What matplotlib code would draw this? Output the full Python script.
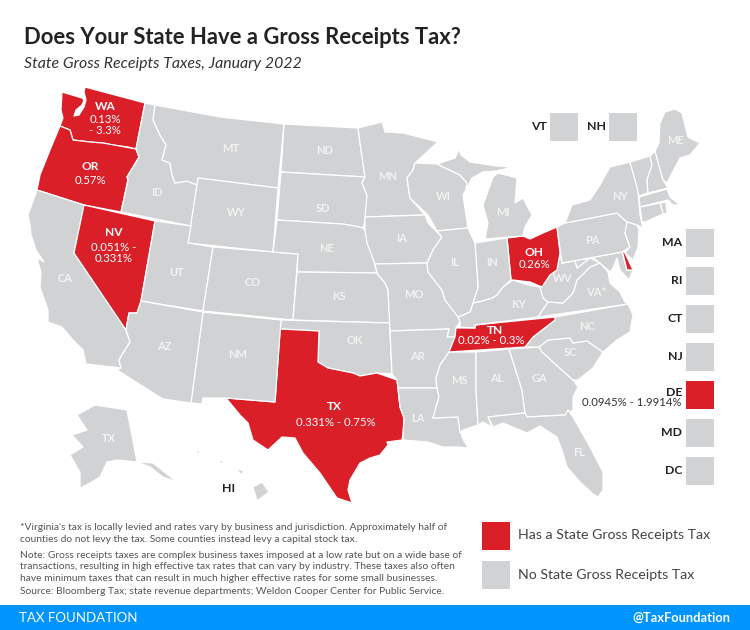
import matplotlib
matplotlib.use("Agg")
import matplotlib.pyplot as plt
from matplotlib.patches import Polygon, Rectangle

plt.rcParams['font.family'] = ['Lato', 'DejaVu Sans']

GRAY = '#d0d2d4'
RED = '#da1f28'
BLUE = '#0094ff'

# state outlines, in image pixels
WA = [(85,87),(145,103),(136,149),(128,147),(112,145),(103,143),(90,142),(73,140),(70,130),(60,126),(63,118),(61,110),(62,92),(72,95),(82,98),(84,100),(82,105),(76,110),(74,116),(79,115),(84,107),(86,100),(84,92)]
OR = [(60,126),(70,130),(73,140),(90,142),(103,143),(136,149),(139,157),(127,177),(128,180),(121,212),(84,205),(37,190),(40,175),(50,150)]
CA = [(37,190),(84,205),(74,253),(126,330),(130,342),(125,350),(119,360),(121,368),(86,364),(83,350),(73,340),(62,327),(48,322),(48,310),(40,287),(41,272),(38,262),(37,258),(44,262),(36,250),(31,235),(30,225),(28,215)]
NV = [(84,205),(155,221),(141,301),(137,313),(129,313),(126,330),(74,253)]
ID = [(145,103),(155,105),(153,120),(160,135),(166,145),(162,160),(170,163),(172,175),(175,183),(187,181),(197,185),(191,226),(121,212),(128,180),(127,177),(139,157),(136,149)]
MT = [(155,105),(220,117),(284,124),(278,188),(198,178),(197,185),(187,181),(175,183),(172,175),(170,163),(162,160),(166,145),(160,135),(153,120)]
WY = [(198,178),(278,188),(273,252),(188,243)]
UT = [(191,226),(188,243),(213,247),(203,311),(141,301),(155,221)]
CO = [(213,247),(273,252),(298,254),(293,320),(203,311)]
ND = [(284,124),(358,128),(360,143),(365,177),(281,172)]
SD = [(281,172),(365,177),(362,183),(367,195),(366,217),(363,228),(355,226),(342,224),(277,220)]
NE = [(277,220),(342,224),(355,226),(363,228),(367,232),(372,255),(377,273),(297,272),(298,254),(273,252)]
KS = [(297,272),(377,273),(385,283),(388,290),(390,323),(293,320)]
OK = [(281,320),(390,323),(390,332),(392,374),(377,373),(360,376),(353,373),(328,368),(318,362),(319,331),(280,329)]
TX = [(280,329),(319,331),(318,362),(328,368),(353,373),(360,376),(377,373),(397,380),(398,388),(400,407),(404,418),(403,433),(402,440),(387,442),(388,445),(380,455),(370,458),(360,463),(350,480),(348,490),(352,503),(337,498),(320,473),(303,453),(295,438),(282,437),(268,450),(253,440),(248,423),(240,415),(226,398),(275,402)]
NM = [(203,312),(281,320),(275,402),(226,398),(203,398),(202,404),(191,403)]
AZ = [(141,301),(203,312),(191,403),(163,399),(117,370),(121,368),(119,360),(125,350),(130,342),(126,330),(129,313),(137,313)]
MN = [(358,128),(382,122),(385,132),(403,133),(438,142),(415,163),(413,170),(407,178),(410,198),(425,215),(365,217),(367,195),(362,183),(365,177),(360,143)]
WI = [(415,163),(437,164),(460,175),(467,183),(466,190),(463,195),(468,228),(437,231),(428,215),(410,198),(407,178),(413,170)]
IA = [(365,217),(425,215),(428,223),(442,237),(433,250),(427,263),(375,264),(367,243),(365,230)]
MO = [(375,264),(427,263),(428,272),(442,290),(445,300),(458,312),(460,322),(456,328),(455,337),(447,337),(449,329),(390,331),(388,290),(385,283),(377,273)]
AR = [(390,331),(449,329),(447,337),(455,337),(449,352),(440,365),(436,378),(437,388),(398,388),(397,380),(392,374)]
LA = [(398,388),(437,388),(439,397),(433,418),(458,417),(462,437),(468,448),(457,447),(443,447),(428,442),(403,440),(404,418),(400,407)]
MS = [(449,352),(476,352),(476,390),(478,425),(463,430),(460,433),(458,417),(433,418),(439,397),(437,388),(436,378),(440,365)]
AL = [(476,352),(509,349),(522,390),(525,413),(488,417),(492,427),(483,422),(478,425),(476,390)]
GA = [(509,349),(539,347),(542,352),(573,380),(578,387),(573,397),(573,410),(565,415),(527,417),(525,413),(522,390)]
FL = [(488,417),(525,413),(527,417),(565,415),(568,410),(573,417),(590,447),(603,472),(603,490),(598,497),(592,493),(580,482),(567,467),(562,450),(557,437),(540,426),(527,433),(503,423),(493,427)]
SC = [(539,347),(548,340),(570,338),(573,343),(587,341),(603,352),(593,368),(578,380),(573,380),(542,352)]
NC = [(555,317),(628,304),(633,315),(630,332),(617,340),(603,352),(587,341),(573,343),(570,338),(548,340),(539,347),(525,347),(533,337),(555,320)]
TN = [(475,325),(555,317),(555,320),(533,337),(525,347),(449,352),(455,337),(456,328),(475,328)]
KY = [(473,303),(482,301),(492,298),(497,295),(503,287),(513,280),(528,285),(540,287),(543,298),(548,302),(538,317),(475,325),(475,328),(460,327),(460,322),(458,317),(470,312)]
VA = [(538,317),(548,302),(563,303),(573,293),(577,280),(590,267),(600,263),(608,272),(610,283),(620,292),(625,302),(628,304)]
WV = [(560,253),(562,263),(575,260),(577,268),(590,258),(600,263),(590,267),(577,280),(573,293),(563,303),(548,302),(543,298),(540,287),(550,275),(557,270)]
OH = [(507,238),(523,236),(530,239),(543,233),(557,227),(560,253),(557,270),(550,275),(542,287),(530,282),(513,280),(511,280)]
MD = [(562,263),(622,252),(627,270),(633,270),(629,280),(620,270),(617,258),(613,268),(610,272),(600,263),(593,258),(590,258),(577,268),(575,260)]
DE = [(622,250),(625,253),(633,270),(627,270)]
PA = [(565,223),(617,213),(627,222),(637,225),(625,233),(630,247),(622,252),(562,263),(557,227)]
NY = [(565,223),(572,205),(590,200),(600,185),(610,167),(630,162),(638,190),(640,215),(643,228),(637,225),(627,222),(617,213)]
LI = [(640,232),(658,222),(643,229)]
NJ = [(627,222),(637,225),(639,230),(638,247),(633,260),(625,253),(630,247),(625,233)]
VT = [(630,162),(650,156),(652,165),(647,180),(648,193),(639,196),(635,180)]
NH = [(650,156),(655,151),(663,180),(668,188),(648,193),(647,180),(652,165)]
ME = [(655,151),(659,143),(660,123),(665,112),(675,109),(682,113),(688,137),(700,143),(690,155),(680,158),(670,177),(667,183),(663,180)]
MA = [(639,197),(667,189),(670,197),(680,205),(673,205),(668,200),(640,207)]
RI = [(660,203),(666,202),(667,213),(663,214)]
CT = [(640,207),(660,203),(663,214),(645,222),(642,222)]
MI_UP = [(437,164),(455,158),(459,149),(461,155),(470,162),(497,166),(512,167),(497,171),(483,172),(472,178),(466,190),(467,183),(460,175)]
MI_LOW = [(498,173),(517,178),(515,203),(523,198),(532,215),(525,227),(523,236),(485,239),(488,223),(483,205),(493,177)]
IN = [(475,243),(507,238),(511,280),(503,287),(497,295),(492,298),(482,301),(473,303),(478,287)]
IL = [(437,231),(468,228),(475,243),(478,287),(473,303),(470,312),(458,317),(445,300),(442,290),(428,272),(427,263),(433,250),(442,237)]
AK = [(77,415),(95,405),(127,410),(137,462),(117,460),(107,462),(100,477),(90,483),(67,495),(80,490),(80,472),(70,455),(83,447),(72,435),(87,430)]
AK_SE = [(137,462),(153,463),(177,482),(163,477),(150,467)]
HI_BIG = [(253,487),(262,482),(269,492),(257,501)]
HI_MAUI = [(237,468),(245,472),(240,474)]
HI_OAHU = [(219,459),(224,463),(220,464)]
HI_KAUAI = [(197,450),(201,452),(197,454)]

shapes = [WA, OR, CA, NV, ID, MT, WY, UT, CO, ND, SD, NE, KS, OK, TX, NM, AZ, MN, WI, IA, MO, AR, LA, MS,
          AL, GA, FL, SC, NC, TN, KY, VA, WV, OH, MD, DE, PA, NY, LI, NJ, VT, NH, ME, MA, RI, CT, MI_UP,
          MI_LOW, IN, IL, AK, AK_SE, HI_BIG, HI_MAUI, HI_OAHU, HI_KAUAI]
red_shapes = [WA, OR, NV, TX, TN, OH, DE]

# labels with no tax, white on the map
plain_names = ['MT', 'ND', 'MN', 'WI', 'MI', 'ID', 'WY', 'SD', 'NY', 'PA', 'IA', 'NE', 'IL', 'IN', 'UT', 'CO',
               'KS', 'MO', 'CA', 'WV', 'VA*', 'KY', 'NC', 'OK', 'AR', 'SC', 'AZ', 'NM', 'MS', 'AL', 'GA', 'LA', 'FL', 'TX', 'ME']
plain_x = [231, 325, 388, 443, 503, 157, 236, 323, 620, 592, 402, 327, 455, 492, 177, 253,
           339, 414, 65, 563, 596, 519, 587, 355, 418, 570, 164, 238, 459, 497, 540, 418, 579, 109, 676]
plain_y = [149, 150, 176, 196, 213, 192, 213, 209, 196, 240, 238, 248, 263, 263, 273, 282,
           296, 294, 279, 279, 293, 304, 326, 340, 356, 353, 347, 355, 381, 379, 378, 419, 453, 438, 140]

red_names = ['WA', 'OR', 'NV', 'OH', 'TN', 'TX']
red_rates = ['0.13%\n- 3.3%', '0.57%', '0.051% -\n0.331%', '0.26%', '0.02% - 0.3%', '0.331% - 0.75%']
red_x = [105, 90, 114, 534, 495, 334]
red_y = [107, 167, 233, 252, 331, 407]
rate_x = [105, 90, 114, 534, 491, 336]
rate_y = [125, 181, 253, 264, 341, 422]

box_names = ['VT', 'NH', 'MA', 'RI', 'CT', 'NJ', 'DE', 'MD', 'DC']
box_x = [550, 609, 686, 686, 686, 686, 686, 686, 686]
box_y = [113, 113, 229, 267, 305, 343, 381, 419, 457]

note_star = ["*Virginia's tax is locally levied and rates vary by business and jurisdiction. Approximately half of",
             "counties do not levy the tax. Some counties instead levy a capital stock tax."]
note_main = ["Note: Gross receipts taxes are complex business taxes imposed at a low rate but on a wide base of",
             "transactions, resulting in high effective tax rates that can vary by industry. These taxes also often",
             "have minimum taxes that can result in much higher effective rates for some small businesses."]
note_source = "Source: Bloomberg Tax; state revenue departments; Weldon Cooper Center for Public Service."

fig = plt.figure(figsize=(7.5, 6.3), dpi=100)
ax = fig.add_axes([0, 0, 1, 1])
ax.set_xlim(0, 750)
ax.set_ylim(630, 0)
ax.axis('off')

for shape in shapes:
    color = RED if any(shape is s for s in red_shapes) else GRAY
    ax.add_patch(Polygon(shape, closed=True, facecolor=color, edgecolor='white', linewidth=0.9, joinstyle='round'))

ax.text(24, 37, "Does Your State Have a Gross Receipts Tax?", fontsize=15.8, fontweight='bold', color='#222222', va='center')
ax.text(24, 64, "State Gross Receipts Taxes, January 2022", fontsize=11.4, style='italic', color='#333333', va='center')

for name, x, y in zip(plain_names, plain_x, plain_y):
    ax.text(x, y, name, fontsize=8, fontweight='bold', color='#f2f2f2', ha='center', va='center')

for i, name in enumerate(red_names):
    ax.text(red_x[i], red_y[i], name, fontsize=8.6, fontweight='bold', color='white', ha='center', va='center')
    ax.text(rate_x[i], rate_y[i], red_rates[i], fontsize=8.2, color='white', ha='center', va='center', linespacing=1.0)

for name, x, y in zip(box_names, box_x, box_y):
    ax.add_patch(Rectangle((x, y), 28, 28, facecolor=RED if name == 'DE' else GRAY, edgecolor='none'))
    label_y = y + 11 if name == 'DE' else y + 14
    ax.text(x - 3.5, label_y, name, fontsize=8.8, fontweight='bold', color='#222222', ha='right', va='center')
ax.text(682, 402, "0.0945% - 1.9914%", fontsize=8.2, color='#333333', ha='right', va='center')
ax.text(222, 489, "HI", fontsize=8.8, fontweight='bold', color='#222222', va='center')

for i, line in enumerate(note_star):
    ax.text(20, 528 + i * 12, line, fontsize=7.4, color='#555555', va='center')
for i, line in enumerate(note_main):
    ax.text(20, 555 + i * 11.7, line, fontsize=7.4, color='#555555', va='center')
ax.text(20, 592, note_source, fontsize=7.4, color='#555555', va='center')

ax.add_patch(Rectangle((482, 522), 28, 27.5, facecolor=RED, edgecolor='none'))
ax.add_patch(Rectangle((482, 561), 28, 27.5, facecolor=GRAY, edgecolor='none'))
ax.text(518, 535, "Has a State Gross Receipts Tax", fontsize=10.2, color='#444444', va='center')
ax.text(518, 575, "No State Gross Receipts Tax", fontsize=10.2, color='#444444', va='center')

ax.add_patch(Rectangle((0, 605), 750, 25, facecolor=BLUE, edgecolor='none'))
ax.text(19, 618, "TAX FOUNDATION", fontsize=9.5, color='white', va='center')
ax.text(730, 618, "@TaxFoundation", fontsize=9.3, fontweight='bold', color='white', ha='right', va='center')

fig.savefig('out.png', dpi=100)
